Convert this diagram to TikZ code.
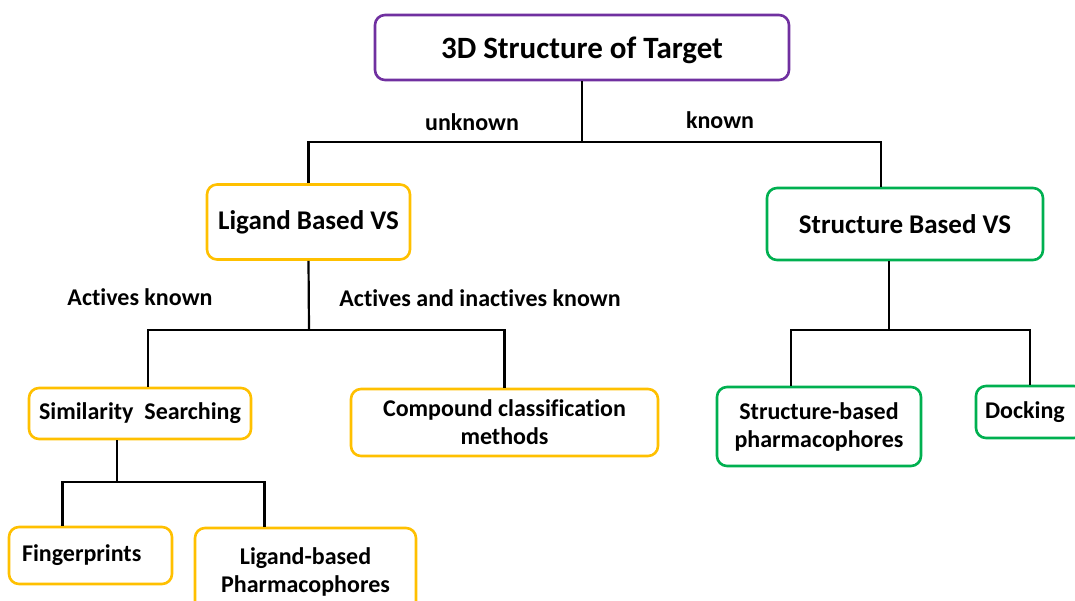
\documentclass[tikz,border=0pt]{standalone}
\usepackage{fontspec}
\setmainfont{Carlito}[Ligatures=NoCommon]
\usetikzlibrary{positioning}
\definecolor{targetpurple}{HTML}{7030A0}
\definecolor{ligandgold}{HTML}{FFC000}
\definecolor{structgreen}{HTML}{00B050}

\begin{document}
\begin{tikzpicture}[x=1pt, y=-1pt,
      vsbox/.style={draw, rounded corners=10pt, line width=2.6pt, fill=white, inner sep=0pt, align=center, font=\bfseries\fontsize{24}{28}\selectfont},
      branchlabel/.style={inner sep=0pt, font=\bfseries\fontsize{24}{28}\selectfont},
      link/.style={line width=2.2pt, color=black}
    ]
      \useasboundingbox (0,0) rectangle (1075,601);
      \clip (0,0) rectangle (1075,601);
      \node[vsbox, draw=targetpurple, minimum width=414, minimum height=65, text depth=0pt, font=\bfseries\fontsize{31}{34}\selectfont] (target) at (582,47.5) {3D Structure of Target};
      \node[vsbox, draw=ligandgold, minimum width=203, minimum height=75, font=\bfseries\fontsize{27}{30}\selectfont] (lbvs) at (308.5,222) {Ligand Based VS};
      \node[vsbox, draw=structgreen, minimum width=276, minimum height=72, font=\bfseries\fontsize{27}{30}\selectfont] (sbvs) at (905,224) {Structure Based VS};
      \node[vsbox, draw=ligandgold, minimum width=222, minimum height=51] (simsearch) at (140,413.5) {Similarity\ \ Searching};
      \node[vsbox, draw=ligandgold, minimum width=307, minimum height=67, text depth=0pt] (compound) at (504.5,422.5) {Compound classification\\methods};
      \node[vsbox, draw=ligandgold, minimum width=163, minimum height=57, text width=137, inner xsep=13, align=left] (fingerprints) at (90.5,555.5) {Fingerprints};
      \node[vsbox, draw=ligandgold, minimum width=221, minimum height=88] (ligpharm) at (305.5,572) {Ligand-based\\Pharmacophores};
      \node[vsbox, draw=structgreen, minimum width=204, minimum height=79] (sbpharm) at (819,426.5) {Structure-based\\pharmacophores};
      \node[vsbox, draw=structgreen, minimum width=108, minimum height=52, text width=90, inner xsep=9, align=left] (docking) at (1030,412) {Docking};

      \node[branchlabel] (unknown) at (472,122) {unknown};
      \node[branchlabel] (known) at (720,120) {known};
      \node[branchlabel] (activesk) at (140,297) {Actives known};
      \node[branchlabel] (activesik) at (480,298) {Actives and inactives known};

      \coordinate (tsplit) at (582,142);
      \coordinate (lsplit) at (309,330);
      \coordinate (rsplit) at (889,330);
      \coordinate (ssplit) at (117,482);

      \draw[link] (target.south) -- (tsplit);
      \draw[link] (lbvs.north) |- (tsplit) -| ([xshift=-24pt]sbvs.north);
      \draw[link] (lbvs.south) -- (lsplit);
      \draw[link] ([xshift=8pt]simsearch.north) |- (lsplit) -| (compound.north);
      \draw[link] ([xshift=-23pt]simsearch.south) -- (ssplit);
      \draw[link] ([xshift=-28pt]fingerprints.north) |- (ssplit) -| ([xshift=-41pt]ligpharm.north);
      \draw[link] ([xshift=-16pt]sbvs.south) -- (rsplit);
      \draw[link] ([xshift=-28pt]sbpharm.north) |- (rsplit) -| (docking.north);
    \end{tikzpicture}
\end{document}
